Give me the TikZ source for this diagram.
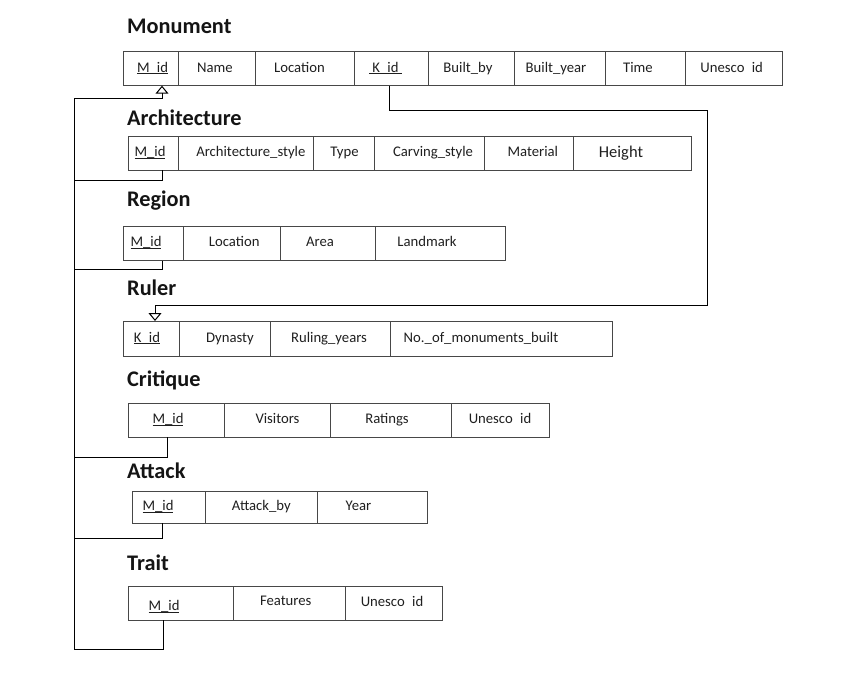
\documentclass[tikz,border=0pt]{standalone}
\usepackage{fontspec}
\setmainfont{Carlito}
\usetikzlibrary{arrows.meta}
\newcommand\keyul[1]{\setbox0\hbox{#1}\rlap{\rule[-1.9pt]{\wd0}{0.9pt}}\box0}
\begin{document}
\begin{tikzpicture}[x=1pt,y=-1pt,
  tbl/.style={draw=black!72, line width=1pt, inner sep=0pt},
  div/.style={draw=black!72, line width=1pt},
  cell/.style={font=\fontsize{14.7}{17}\selectfont, text=black!88, inner sep=0pt, anchor=base},
  big/.style={font=\fontsize{16.5}{19}\selectfont, text=black!88, inner sep=0pt, anchor=base},
  ttl/.style={font=\fontsize{22.3}{26}\selectfont\bfseries, text=black!92, inner sep=0pt, anchor=base west},
  conn/.style={draw=black, line width=1pt},
  opentip/.style={-{Triangle[open, length=8pt, width=13pt]}}
]
\useasboundingbox (0,0) rectangle (857,680);

% ---------- Monument ----------
\node[ttl] (tMon) at (127,34) {Monument};
\node[tbl, minimum width=659pt, minimum height=34pt] (mon) at (452.8,68.7) {};
\foreach \x in {178.3,255.7,354.3,428,514.3,605.7,685.7} \draw[div] (\x,51.7) -- (\x,85.7);
\node[cell] (monMid) at (152.5,72.2) {\keyul{M\_id}};
\node[cell] (monName) at (215,72.2) {Name};
\node[cell] (monLoc) at (299.5,72.2) {Location};
\node[cell] (monKid) at (385.5,72.2) {\keyul{\ K\_id\ }};
\node[cell] (monBby) at (468,72.2) {Built\_by};
\node[cell] (monByr) at (556,72.2) {Built\_year};
\node[cell] (monTime) at (638,72.2) {Time};
\node[cell] (monUn) at (731.7,72.2) {Unesco\hspace{4pt} id};

% ---------- Architecture ----------
\node[ttl] (tArch) at (127,125) {Architecture};
\node[tbl, minimum width=562.7pt, minimum height=34pt] (arch) at (409.65,153) {};
\foreach \x in {178.3,313.3,374.3,484.3,573.3} \draw[div] (\x,136) -- (\x,170);
\node[cell] (archMid) at (150,156.5) {\keyul{M\_id}};
\node[cell] (archSty) at (250.8,156.5) {Architecture\_style};
\node[cell] (archType) at (344.5,156.5) {Type};
\node[cell] (archCarv) at (433,156.5) {Carving\_style};
\node[cell] (archMat) at (532.8,156.5) {Material};
\node[big] (archH) at (621,157) {Height};

% ---------- Region ----------
\node[ttl] (tReg) at (127,206) {Region};
\node[tbl, minimum width=381.7pt, minimum height=34.5pt] (reg) at (314.15,243.25) {};
\foreach \x in {183.3,280,375} \draw[div] (\x,226) -- (\x,260.5);
\node[cell] (regMid) at (146,246.5) {\keyul{M\_id}};
\node[cell] (regLoc) at (234.2,246.5) {Location};
\node[cell] (regArea) at (320,246.5) {Area};
\node[cell] (regLand) at (427,246.5) {Landmark};

% ---------- Ruler ----------
\node[ttl] (tRul) at (127,295) {Ruler};
\node[tbl, minimum width=489pt, minimum height=35.7pt] (rul) at (367.8,338.85) {};
\foreach \x in {179,270,390} \draw[div] (\x,321) -- (\x,356.7);
\node[cell] (rulKid) at (147,342) {\keyul{K\_id}};
\node[cell] (rulDyn) at (230,342) {Dynasty};
\node[cell] (rulYrs) at (329,342) {Ruling\_years};
\node[cell] (rulNo) at (481,342) {No.\_of\_monuments\_built};

% ---------- Critique ----------
\node[ttl] (tCri) at (127,386.7) {Critique};
\node[tbl, minimum width=420.7pt, minimum height=34.3pt] (cri) at (338.65,420.15) {};
\foreach \x in {224.3,330.7,451.7} \draw[div] (\x,403) -- (\x,437.3);
\node[cell] (criMid) at (168,423.5) {\keyul{M\_id}};
\node[cell] (criVis) at (277.5,423.5) {Visitors};
\node[cell] (criRat) at (387,423.5) {Ratings};
\node[cell] (criUn) at (500,423.5) {Unesco\hspace{4pt} id};

% ---------- Attack ----------
\node[ttl] (tAtt) at (127,478) {Attack};
\node[tbl, minimum width=294.6pt, minimum height=32.3pt] (att) at (280,507.15) {};
\foreach \x in {205,317.3} \draw[div] (\x,491) -- (\x,523.3);
\node[cell] (attMid) at (158,510.5) {\keyul{M\_id}};
\node[cell] (attBy) at (261.3,510.5) {Attack\_by};
\node[cell] (attYr) at (358.5,510.5) {Year};

% ---------- Trait ----------
\node[ttl] (tTra) at (127,570) {Trait};
\node[tbl, minimum width=314pt, minimum height=34pt] (tra) at (285.3,603) {};
\foreach \x in {233.3,345.7} \draw[div] (\x,586) -- (\x,620);
\node[cell] (traMid) at (164,610.5) {\keyul{M\_id}};
\node[cell] (traFeat) at (285.7,605.5) {Features};
\node[cell] (traUn) at (392,606) {Unesco\hspace{4pt} id};

% ---------- connector end points ----------
\coordinate (monPK) at (162,85.7);
\coordinate (archFK) at (162,170);
\coordinate (regFK) at (162,260.5);
\coordinate (criFK) at (167,437.3);
\coordinate (attFK) at (162,523.3);
\coordinate (traFK) at (163,620);
\coordinate (monFK) at (389,85.7);
\coordinate (rulPK) at (155,321);

% M_id foreign keys -> Monument
\draw[conn, opentip] (traFK) -- (163,649) -- (74,649) -- (74,98) -- (162,98) -- (monPK);
\draw[conn] (archFK) -- (162,180) -- (74,180);
\draw[conn] (regFK) -- (162,269) -- (74,269);
\draw[conn] (criFK) -- (167,457) -- (74,457);
\draw[conn] (attFK) -- (162,538) -- (74,538);

% K_id -> Ruler
\draw[conn, opentip] (monFK) -- (389,110) -- (707,110) -- (707,305) -- (155,305) -- (rulPK);
\end{tikzpicture}
\end{document}
